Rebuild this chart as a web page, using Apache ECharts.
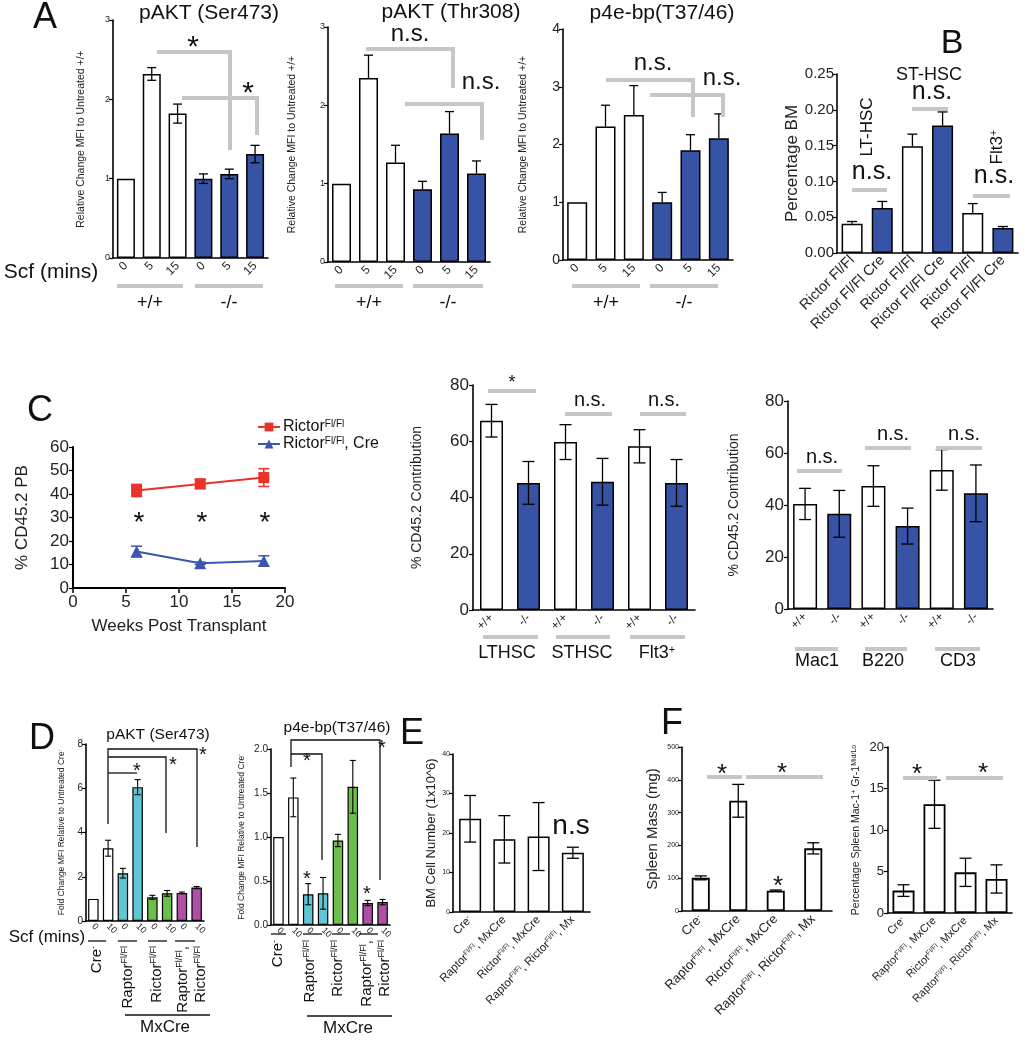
<!DOCTYPE html>
<html><head><meta charset="utf-8">
<script src="https://cdn.jsdelivr.net/npm/echarts@6/dist/echarts.min.js"></script>
<style>html,body{margin:0;padding:0;background:#fff}#c{width:1025px;height:1050px}</style>
</head><body><div id="c"></div>
<script>
// ---------------- DATA ----------------
const scfMins = ['0', '5', '15', '0', '5', '15'];
// A1 pAKT (Ser473)
const a1Wt = [1.00, 2.32, 1.82], a1WtErr = [0, 0.08, 0.12];
const a1Ko = [1.00, 1.06, 1.31], a1KoErr = [0.06, 0.06, 0.11];
// A2 pAKT (Thr308)
const a2Wt = [1.00, 2.35, 1.27], a2WtErr = [0, 0.29, 0.22];
const a2Ko = [0.93, 1.64, 1.13], a2KoErr = [0.10, 0.28, 0.16];
// A3 p4e-bp(T37/46)
const a3Wt = [1.00, 2.31, 2.51], a3WtErr = [0, 0.37, 0.51];
const a3Ko = [1.00, 1.90, 2.11], a3KoErr = [0.17, 0.27, 0.42];
// B percentage BM
const bCats = ['Rictor Fl/Fl', 'Rictor Fl/Fl Cre', 'Rictor Fl/Fl', 'Rictor Fl/Fl Cre', 'Rictor Fl/Fl', 'Rictor Fl/Fl Cre'];
const bCtrl = [0.041, 0.149, 0.056], bCtrlErr = [0.003, 0.017, 0.013];
const bCre = [0.063, 0.178, 0.035], bCreErr = [0.009, 0.019, 0.002];
// C1 % CD45.2 PB over time
const cWeeks = [6, 12, 18];
const cRictor = [41.5, 44.3, 47.0], cRictorErr = [2.6, 2.0, 3.8];
const cRictorCre = [15.5, 10.5, 11.5], cRictorCreErr = [2.3, 0.5, 2.2];
// C2 stem/progenitor contribution
const genoCats = ['+/+', '-/-', '+/+', '-/-', '+/+', '-/-'];
const c2Wt = [67.3, 59.7, 58.2], c2WtErr = [5.8, 6.2, 5.9];
const c2Ko = [45.2, 45.6, 45.2], c2KoErr = [7.6, 8.3, 8.3];
// C3 lineage contribution
const c3Wt = [40.4, 47.3, 53.5], c3WtErr = [6.0, 7.8, 7.8];
const c3Ko = [36.6, 31.9, 44.5], c3KoErr = [9.0, 6.9, 10.9];
// D
const dMins = ['0', '10', '0', '10', '0', '10', '0', '10'];
const d1Vals = [1.00, 3.29, 2.16, 6.05, 1.07, 1.25, 1.27, 1.51];
const d1Err = [0, 0.36, 0.22, 0.34, 0.09, 0.13, 0.04, 0.05];
const d2Vals = [1.00, 1.45, 0.35, 0.36, 0.96, 1.57, 0.25, 0.26];
const d2Err = [0, 0.22, 0.12, 0.18, 0.07, 0.30, 0.03, 0.03];
// E / F
const genotypes = ['Cre{sup|-}', 'Raptor{sup|Fl/Fl}, MxCre', 'Rictor{sup|Fl/Fl}, MxCre', 'Raptor{sup|Fl/Fl}, Rictor{sup|Fl/Fl}, Mx'];
const eVals = [23.6, 18.4, 19.1, 15.0], eErr = [5.9, 6.0, 8.6, 1.4];
const f1Vals = [101, 336, 62, 191], f1Err = [6, 50, 2, 17];
const f2Vals = [2.7, 13.1, 4.9, 4.1], f2Err = [0.7, 2.9, 1.7, 1.7];

// ---------------- STYLE ----------------
const FF = '"Liberation Sans", Arial, sans-serif';
const BLUE = '#3753a5', WHITE = '#ffffff', CYAN = '#5ec6d4', GREEN = '#6cbf4a', PURPLE = '#b04fa6';
const RED = '#e8322a', LBLUE = '#3b57b0', GREY = '#c6c6c6';
const dColors = [WHITE, WHITE, CYAN, CYAN, GREEN, GREEN, PURPLE, PURPLE];

function rich(fs, color) {
  return { sup: { fontSize: Math.round(fs * 0.62), verticalAlign: 'top', fontFamily: FF, color: color || '#222', fill: color || '#222', padding: [0, 0, Math.round(fs * 0.35), 0] } };
}
const dash = n => Array(n).fill('-');
const pad = (arr, before, after) => dash(before).concat(arr, dash(after));
const inter = (a, b) => { const r = []; a.forEach((v, i) => { r.push(v, b[i]); }); return r; };

const option = {
  animation: false, backgroundColor: '#fff',
  textStyle: { fontFamily: FF },
  grid: [], xAxis: [], yAxis: [], series: [], graphic: [],
  legend: {}
};

function errRender(cap, oneSided, color, lw) {
  return function (params, api) {
    const x = api.value(0), m = api.value(1), e = api.value(2);
    if (!(e > 0)) return null;
    const pt = api.coord([x, m + e]);
    const pb = api.coord([x, oneSided ? m : m - e]);
    const st = { stroke: color || '#000', lineWidth: lw || 1.3 };
    const ch = [
      { type: 'line', shape: { x1: pt[0], y1: pt[1], x2: pb[0], y2: pb[1] }, style: st },
      { type: 'line', shape: { x1: pt[0] - cap / 2, y1: pt[1], x2: pt[0] + cap / 2, y2: pt[1] }, style: st }
    ];
    if (!oneSided) ch.push({ type: 'line', shape: { x1: pb[0] - cap / 2, y1: pb[1], x2: pb[0] + cap / 2, y2: pb[1] }, style: st });
    return { type: 'group', children: ch };
  };
}

function addGrid(c) {
  const gi = option.grid.length;
  option.grid.push({ left: c.l, top: c.t, width: c.w, height: c.h });
  return gi;
}
function yAxis(gi, c) {
  option.yAxis.push({
    type: 'value', gridIndex: gi, min: 0, max: c.max, interval: c.iv,
    axisLine: { show: true, lineStyle: { color: '#000', width: 1.6 } },
    axisTick: { show: true, length: 4, lineStyle: { color: '#000', width: 1.2 } },
    splitLine: { show: false },
    axisLabel: { fontSize: c.yfs, color: '#222', margin: c.ym || 4, formatter: c.yfmt },
    name: c.yname, nameLocation: 'middle', nameGap: c.ngap,
    nameTextStyle: { fontSize: c.nfs, color: '#222', fontFamily: c.nff || FF, rich: rich(c.nfs) }
  });
}
function addBarPanel(c) {
  const gi = addGrid(c);
  option.xAxis.push({
    type: 'category', gridIndex: gi, data: c.cats,
    axisLine: { lineStyle: { color: '#000', width: 1.6 } },
    axisTick: { alignWithLabel: true, length: 4, lineStyle: { color: '#000', width: 1.2 } },
    axisLabel: { interval: 0, rotate: c.rot || 0, fontSize: c.xfs, color: '#222', margin: c.xm || 6, rich: rich(c.xfs) },
    splitLine: { show: false }
  });
  yAxis(gi, c);
  c.series.forEach(s => option.series.push({
    type: 'bar', xAxisIndex: gi, yAxisIndex: gi, data: s.data, barWidth: c.bw, barGap: '-100%',
    itemStyle: { color: s.color, borderColor: '#000', borderWidth: c.bbw || 1.5 }
  }));
  option.series.push({
    type: 'custom', xAxisIndex: gi, yAxisIndex: gi, data: c.err, z: 5,
    renderItem: errRender(c.cap, c.oneSided, '#000', c.elw)
  });
  return gi;
}
const errData = (vals, errs, offset, step) => vals.map((v, i) => [offset + i * (step || 1), v, errs[i]]);

// graphic helpers
const G = option.graphic;
function T(x, y, text, fs, o) {
  o = o || {};
  G.push({ type: 'text', x: x, y: y, rotation: o.rot || 0, z: 100, silent: true,
    style: { text: text, fontSize: fs, fontFamily: o.ff || FF, fill: o.color || '#111', align: o.align || 'center', verticalAlign: o.va || 'middle', rich: rich(fs, o.color || '#111') } });
}
function L(points, color, w) {
  G.push({ type: 'polyline', z: 90, silent: true, shape: { points: points }, style: { stroke: color, lineWidth: w, fill: null, lineJoin: 'miter' } });
}
function star(x, cy, fs) { T(x, cy + fs * 0.28, '*', fs); }

// ---------------- PANEL A ----------------
const aBase = { cats: scfMins, rot: 45, xfs: 12, yfs: 9, ym: 3, nfs: 10.5, iv: 1, cap: 9 };
addBarPanel(Object.assign({}, aBase, { l: 113, t: 20, w: 155, h: 238, max: 3, bw: 18, ngap: 26,
  yname: 'Relative Change MFI to Untreated +/+',
  series: [{ data: pad(a1Wt, 0, 3), color: WHITE }, { data: pad(a1Ko, 3, 0), color: BLUE }],
  err: errData(a1Wt, a1WtErr, 0).concat(errData(a1Ko, a1KoErr, 3)) }));
addBarPanel(Object.assign({}, aBase, { l: 328, t: 27, w: 162, h: 235, max: 3, bw: 19, ngap: 30, oneSided: true,
  yname: 'Relative Change MFI to Untreated +/+',
  series: [{ data: pad(a2Wt, 0, 3), color: WHITE }, { data: pad(a2Ko, 3, 0), color: BLUE }],
  err: errData(a2Wt, a2WtErr, 0).concat(errData(a2Ko, a2KoErr, 3)) }));
addBarPanel(Object.assign({}, aBase, { l: 563, t: 29, w: 170, h: 231, max: 4, bw: 20, ngap: 34, oneSided: true, yfs: 14,
  yname: 'Relative Change MFI to Untreated +/+',
  series: [{ data: pad(a3Wt, 0, 3), color: WHITE }, { data: pad(a3Ko, 3, 0), color: BLUE }],
  err: errData(a3Wt, a3WtErr, 0).concat(errData(a3Ko, a3KoErr, 3)) }));

T(45, 18, 'A', 36);
T(209, 13, 'pAKT (Ser473)', 21);
T(451, 12, 'pAKT (Thr308)', 21);
T(662, 13, 'p4e-bp(T37/46)', 21);
T(51, 272, 'Scf (mins)', 21);
[[117, 183, 195, 263, 150, 229], [335, 403, 413, 483, 369, 448], [572, 640, 650, 718, 606, 684]].forEach(g => {
  L([[g[0], 286], [g[1], 286]], GREY, 4);
  L([[g[2], 286], [g[3], 286]], GREY, 4);
  T(g[4], 303, '+/+', 18);
  T(g[5], 303, '-/-', 18);
});
L([[157, 52], [230, 52], [230, 150]], GREY, 4); star(193, 39, 30);
L([[182, 98], [257, 98], [257, 135]], GREY, 4); star(248, 85, 30);
L([[366, 49], [453, 49], [453, 88]], GREY, 4); T(410, 34, 'n.s.', 24);
L([[405, 104], [482, 104], [482, 140]], GREY, 4); T(481, 82, 'n.s.', 24);
L([[606, 80], [693, 80], [693, 117]], GREY, 4); T(653, 63, 'n.s.', 24);
L([[650, 95], [723, 95], [723, 117]], GREY, 4); T(722, 78, 'n.s.', 24);

// ---------------- PANEL B ----------------
addBarPanel({ l: 837, t: 74, w: 181, h: 179, max: 0.25, iv: 0.05, cats: bCats, rot: 45, xfs: 14.5, xm: 5,
  yfs: 15, ym: 3, yfmt: v => v.toFixed(2), nfs: 17, ngap: 35, yname: 'Percentage BM', bw: 21, cap: 10, oneSided: true,
  series: [{ data: inter(bCtrl, dash(3)), color: WHITE }, { data: inter(dash(3), bCre), color: BLUE }],
  err: errData(bCtrl, bCtrlErr, 0, 2).concat(errData(bCre, bCreErr, 1, 2)) });
T(952, 44, 'B', 34);
T(867, 127, 'LT-HSC', 17, { rot: Math.PI / 2 });
T(872, 172, 'n.s.', 25); L([[852, 190], [887, 190]], GREY, 4);
T(929, 75, 'ST-HSC', 18);
T(932, 92, 'n.s.', 25); L([[912, 109], [948, 109]], GREY, 4);
T(997, 147, 'Flt3{sup|+}', 17, { rot: Math.PI / 2 });
T(994, 176, 'n.s.', 25); L([[973, 196], [1010, 196]], GREY, 4);

// ---------------- PANEL C1 (line) ----------------
(function () {
  const gi = addGrid({ l: 73, t: 447, w: 212, h: 141 });
  option.xAxis.push({ type: 'value', gridIndex: gi, min: 0, max: 20, interval: 5,
    axisLine: { lineStyle: { color: '#000', width: 2 } }, axisTick: { length: 5, lineStyle: { color: '#000', width: 1.5 } },
    splitLine: { show: false }, axisLabel: { fontSize: 17, color: '#222', margin: 6 },
    name: 'Weeks Post Transplant', nameLocation: 'middle', nameGap: 30, nameTextStyle: { fontSize: 17, color: '#222' } });
  yAxis(gi, { max: 60, iv: 10, yfs: 17, ym: 4, yname: '% CD45.2 PB', nfs: 17, ngap: 42 });
  option.yAxis[gi].axisLine.lineStyle.width = 2;
  option.series.push({ type: 'line', name: 'rictor', xAxisIndex: gi, yAxisIndex: gi, data: cWeeks.map((w, i) => [w, cRictor[i]]),
    symbol: 'rect', symbolSize: 11, color: RED, lineStyle: { width: 2, color: RED }, itemStyle: { color: RED }, z: 4 });
  option.series.push({ type: 'line', name: 'rictorCre', xAxisIndex: gi, yAxisIndex: gi, data: cWeeks.map((w, i) => [w, cRictorCre[i]]),
    symbol: 'triangle', symbolSize: 12, color: LBLUE, lineStyle: { width: 2, color: LBLUE }, itemStyle: { color: LBLUE }, z: 4 });
  option.series.push({ type: 'custom', xAxisIndex: gi, yAxisIndex: gi, data: cWeeks.map((w, i) => [w, cRictor[i], cRictorErr[i]]), renderItem: errRender(11, false, RED, 1.5), z: 3 });
  option.series.push({ type: 'custom', xAxisIndex: gi, yAxisIndex: gi, data: cWeeks.map((w, i) => [w, cRictorCre[i], cRictorCreErr[i]]), renderItem: errRender(11, false, LBLUE, 1.5), z: 3 });
})();
option.legend = { left: 252, top: 414, orient: 'vertical', itemGap: 1, itemWidth: 22, itemHeight: 11,
  data: ['rictor', 'rictorCre'],
  formatter: n => n === 'rictor' ? 'Rictor{sup|Fl/Fl}' : 'Rictor{sup|Fl/Fl}, Cre',
  textStyle: { fontSize: 16, color: '#111', padding: [0, 0, 0, -2], rich: rich(16, '#111') } };
T(40, 411, 'C', 36);
star(139, 515, 28); star(202, 515, 28); star(265, 515, 28);

// ---------------- PANEL C2 ----------------
const cBase = { cats: genoCats, rot: 45, xfs: 12, xm: 6, yfs: 17, ym: 4, nfs: 14, max: 80, iv: 20, cap: 12,
  nff: '"Liberation Sans Narrow", "Liberation Sans", Arial, sans-serif' };
addBarPanel(Object.assign({}, cBase, { l: 473, t: 385, w: 222, h: 225, bw: 23, ngap: 49, yname: '% CD45.2 Contribution',
  series: [{ data: inter(c2Wt, dash(3)), color: WHITE }, { data: inter(dash(3), c2Ko), color: BLUE }],
  err: errData(c2Wt, c2WtErr, 0, 2).concat(errData(c2Ko, c2KoErr, 1, 2)) }));
star(512, 378, 18); L([[488, 391], [536, 391]], GREY, 4);
T(590, 400, 'n.s.', 20); L([[565, 414], [612, 414]], GREY, 4);
T(664, 400, 'n.s.', 20); L([[640, 414], [686, 414]], GREY, 4);
[[483, 538, 507, 'LTHSC'], [556, 610, 582, 'STHSC'], [630, 685, 657, 'Flt3{sup|+}']].forEach(g => {
  L([[g[0], 637], [g[1], 637]], GREY, 4); T(g[2], 653, g[3], 18);
});

// ---------------- PANEL C3 ----------------
addBarPanel(Object.assign({}, cBase, { l: 788, t: 401, w: 205, h: 208, bw: 24, ngap: 47, yname: '% CD45.2 Contribution',
  series: [{ data: inter(c3Wt, dash(3)), color: WHITE }, { data: inter(dash(3), c3Ko), color: BLUE }],
  err: errData(c3Wt, c3WtErr, 0, 2).concat(errData(c3Ko, c3KoErr, 1, 2)) }));
T(822, 457, 'n.s.', 20); L([[797, 471], [842, 471]], GREY, 4);
T(893, 434, 'n.s.', 20); L([[865, 448], [911, 448]], GREY, 4);
T(964, 434, 'n.s.', 20); L([[936, 448], [982, 448]], GREY, 4);
[[795, 838, 817, 'Mac1'], [865, 907, 883, 'B220'], [935, 980, 958, 'CD3']].forEach(g => {
  L([[g[0], 649], [g[1], 649]], GREY, 4); T(g[2], 661, g[3], 18);
});

// ---------------- PANEL D ----------------
function dItems(vals) { return vals.map((v, i) => ({ value: v, itemStyle: { color: dColors[i] } })); }
const dBase = { cats: dMins, rot: -45, xfs: 9, xm: 4, yfs: 10, ym: 3, nfs: 8.5, bw: 10.5, cap: 6, bbw: 1.2, elw: 1.1 };
addBarPanel(Object.assign({}, dBase, { l: 86, t: 744, w: 118, h: 177, max: 8, iv: 2, ngap: 20,
  yname: 'Fold Change MFI Relative to Untreated Cre{sup|-}',
  series: [{ data: dItems(d1Vals), color: WHITE }], err: errData(d1Vals, d1Err, 0) }));
addBarPanel(Object.assign({}, dBase, { l: 271, t: 749, w: 119, h: 176, max: 2, iv: 0.5, ngap: 25, yfmt: v => v.toFixed(1),
  yname: 'Fold Change MFI Relative to Untreated Cre{sup|-}',
  series: [{ data: dItems(d2Vals), color: WHITE }], err: errData(d2Vals, d2Err, 0) }));
T(42, 739, 'D', 36);
T(158, 735, 'pAKT (Ser473)', 15.5);
T(337, 728, 'p4e-bp(T37/46)', 15.5);
T(47, 937, 'Scf (mins)', 17);
// D1 brackets
L([[108, 824], [108, 749], [197, 749], [197, 847]], '#111', 1.3);
L([[108, 757], [166, 757], [166, 833]], '#111', 1.3);
L([[108, 773], [137, 773]], '#111', 1.3);
star(137, 766, 20); star(173, 760, 20); star(203, 750, 20);
// D2 brackets
L([[291, 767], [291, 740], [380, 740], [380, 880]], '#111', 1.3);
L([[291, 754], [322, 754], [322, 860]], '#111', 1.3);
star(307, 756, 20); star(382, 743, 20); star(307, 874, 20); star(367, 889, 20);
// D group labels
[[88, 106, 97, 'Cre{sup|-}'], [118, 137, 128, 'Raptor{sup|Fl/Fl}'], [148, 167, 157, 'Rictor{sup|Fl/Fl}']].forEach(g => {
  L([[g[0], 941], [g[1], 941]], '#111', 1.3); T(g[2], 946, g[3], 15, { rot: Math.PI / 2, align: 'right' });
});
L([[175, 941], [195, 941]], '#111', 1.3);
T(183, 946, 'Raptor{sup|Fl/Fl},', 15, { rot: Math.PI / 2, align: 'right' });
T(201, 946, 'Rictor{sup|Fl/Fl}', 15, { rot: Math.PI / 2, align: 'right' });
L([[125, 1015], [210, 1015]], '#111', 1.3); T(165, 1027, 'MxCre', 17);
[[271, 286, 278, 'Cre{sup|-}'], [303, 322, 310, 'Raptor{sup|Fl/Fl}'], [332, 350, 338, 'Rictor{sup|Fl/Fl}']].forEach(g => {
  L([[g[0], 934], [g[1], 934]], '#111', 1.3); T(g[2], 940, g[3], 15, { rot: Math.PI / 2, align: 'right' });
});
L([[359, 934], [378, 934]], '#111', 1.3);
T(367, 940, 'Raptor{sup|Fl/Fl},', 15, { rot: Math.PI / 2, align: 'right' });
T(385, 940, 'Rictor{sup|Fl/Fl}', 15, { rot: Math.PI / 2, align: 'right' });
L([[307, 1016], [392, 1016]], '#111', 1.3); T(348, 1028, 'MxCre', 17);

// ---------------- PANEL E ----------------
addBarPanel({ l: 453, t: 754, w: 137, h: 158, max: 40, iv: 10, cats: genotypes, rot: 45, xfs: 11.5, xm: 6,
  yfs: 7, ym: 3, nfs: 13, ngap: 10, yname: 'BM Cell Number (1x10^6)', bw: 22, cap: 12, bbw: 1.5,
  series: [{ data: eVals, color: WHITE }], err: errData(eVals, eErr, 0) });
T(412, 734, 'E', 36);
T(571, 826, 'n.s', 28);

// ---------------- PANEL F ----------------
addBarPanel({ l: 682, t: 747, w: 150, h: 164, max: 500, iv: 100, cats: genotypes, rot: 45, xfs: 13, xm: 6,
  yfs: 7, ym: 3, nfs: 15, ngap: 22, yname: 'Spleen Mass (mg)', bw: 18, cap: 12, bbw: 1.8,
  series: [{ data: f1Vals, color: WHITE }], err: errData(f1Vals, f1Err, 0) });
addBarPanel({ l: 888, t: 747, w: 124, h: 166, max: 20, iv: 5, cats: genotypes, rot: 45, xfs: 11, xm: 6,
  yfs: 13, ym: 4, nfs: 10.5, ngap: 26, yname: 'Percentage Spleen Mac-1{sup|+} Gr-1{sup|Mid/Lo}', bw: 22, cap: 12, bbw: 1.8,
  series: [{ data: f2Vals, color: WHITE }], err: errData(f2Vals, f2Err, 0) });
T(672, 724, 'F', 36);
star(722, 768, 26); star(782, 767, 26); star(778, 880, 26);
L([[707, 777], [742, 777]], GREY, 4); L([[746, 777], [823, 777]], GREY, 4);
star(917, 768, 26); star(983, 767, 26);
L([[903, 778], [937, 778]], GREY, 4); L([[946, 778], [1003, 778]], GREY, 4);

const chart = echarts.init(document.getElementById('c'), null, { renderer: 'canvas' });
chart.setOption(option);
</script></body></html>
